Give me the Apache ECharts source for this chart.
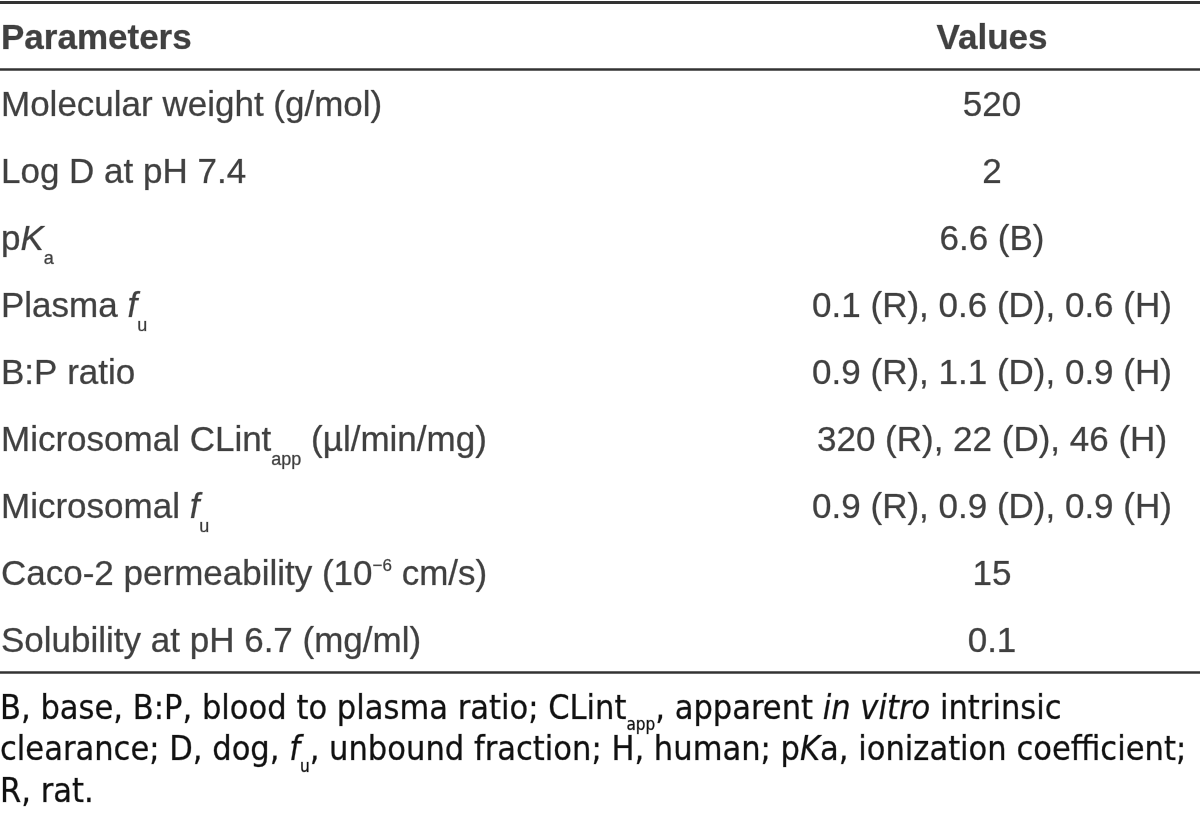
<!DOCTYPE html>
<html>
<head>
<meta charset="utf-8">
<script src="https://cdn.jsdelivr.net/npm/echarts@6/dist/echarts.min.js"></script>
<style>
html,body{margin:0;padding:0;background:#fff;}
#chart{width:1200px;height:816px;}
</style>
</head>
<body>
<div id="chart"></div>
<script>
// ---- table content ----
const headers = ['Parameters', 'Values'];
const parameters = [
  'Molecular weight (g/mol)',
  'Log D at pH 7.4',
  'p{it|K}{sub|a}',
  'Plasma {it|f}{sub|u}',
  'B:P ratio',
  'Microsomal CLint{sub|app} (µl/min/mg)',
  'Microsomal {it|f}{sub|u}',
  'Caco-2 permeability (10{sup|−6} cm/s)',
  'Solubility at pH 6.7 (mg/ml)'
];
const values = [
  '520',
  '2',
  '6.6 (B)',
  '0.1 (R), 0.6 (D), 0.6 (H)',
  '0.9 (R), 1.1 (D), 0.9 (H)',
  '320 (R), 22 (D), 46 (H)',
  '0.9 (R), 0.9 (D), 0.9 (H)',
  '15',
  '0.1'
];
const footnoteLines = [
  'B, base, B:P, blood to plasma ratio; CLint{fsub|app}, apparent {fit|in vitro} intrinsic',
  'clearance; D, dog, {fit|f}{fsub|u}, unbound fraction; H, human; p{fit|K}a, ionization coefficient;',
  'R, rat.'
];

// ---- build ----
const FONT = '"Liberation Sans", Arial, Helvetica, sans-serif';
const NARROW = '"Liberation Sans Narrow", "DejaVu Sans Condensed", "Liberation Sans", sans-serif';
const TXT = '#111';
const FS = 35;
const BORDER = {textBorderColor: 'rgba(17,17,17,0.45)', textBorderWidth: 0.6};

const colParams = ['{b|' + headers[0] + '}'].concat(parameters);
const colValues = ['{b|' + headers[1] + '}'].concat(values);
const rowIds = colParams.map((_, i) => 'row' + i);

const PARAM_X = 1;
const VALUE_X = 992;

function st(o) { return Object.assign({fontFamily: FONT, color: TXT}, BORDER, o); }
const rich = {
  b: st({fontSize: FS, fontWeight: 'bold', lineHeight: 46}),
  it: st({fontSize: FS, fontStyle: 'italic', lineHeight: 46}),
  sub: st({fontSize: 18, lineHeight: 6, padding: [38, 0, 0, 0]}),
  sup: st({fontSize: 17, lineHeight: 6, padding: [0, 0, 18, 0]})
};

const labelBase = Object.assign({
  show: true,
  fontSize: FS,
  fontFamily: FONT,
  color: TXT,
  lineHeight: 46,
  offset: [0, 4],
  rich: rich,
  formatter: p => p.data.label
}, BORDER);

const splitColors = rowIds.concat(['end']).map((_, i) => i === 1 ? '#333' : 'rgba(0,0,0,0)');

const FN_LH = 41.5;
const chart = echarts.init(document.getElementById('chart'), null, {renderer: 'canvas'});
chart.setOption({
  backgroundColor: '#fff',
  animation: false,
  title: {
    left: 0,
    top: 689,
    padding: 0,
    text: footnoteLines.join('\n'),
    textStyle: Object.assign({
      fontSize: 34,
      fontWeight: 'normal',
      fontFamily: NARROW,
      color: TXT,
      lineHeight: FN_LH,
      rich: {
        fit: Object.assign({fontSize: 34, fontStyle: 'italic', fontFamily: NARROW, color: TXT, lineHeight: FN_LH}, BORDER),
        fsub: Object.assign({fontSize: 17, fontFamily: NARROW, color: TXT, lineHeight: 6, padding: [32, 0, 0, 0]}, BORDER)
      }
    }, BORDER)
  },
  grid: {left: 0, right: 0, top: 2, height: 670, containLabel: false},
  xAxis: [
    {type: 'value', min: 0, max: 1200, position: 'top',
     axisLine: {show: true, onZero: false, lineStyle: {color: '#333', width: 3}},
     axisTick: {show: false}, axisLabel: {show: false}, splitLine: {show: false}},
    {type: 'value', min: 0, max: 1200, position: 'bottom',
     axisLine: {show: true, onZero: false, lineStyle: {color: '#333', width: 2.5}},
     axisTick: {show: false}, axisLabel: {show: false}, splitLine: {show: false}}
  ],
  yAxis: {
    type: 'category', inverse: true, data: rowIds, boundaryGap: true,
    axisLine: {show: false}, axisTick: {show: false}, axisLabel: {show: false},
    splitLine: {show: true, interval: 0, lineStyle: {color: splitColors, width: 2.5}}
  },
  series: [
    {
      type: 'scatter', name: 'Parameters', xAxisIndex: 0, symbolSize: 0, silent: true,
      data: colParams.map((t, i) => ({value: [PARAM_X, i], label: t})),
      label: Object.assign({}, labelBase, {position: 'right', distance: 0})
    },
    {
      type: 'scatter', name: 'Values', xAxisIndex: 0, symbolSize: 0, silent: true,
      data: colValues.map((t, i) => ({value: [VALUE_X, i], label: t})),
      label: Object.assign({}, labelBase, {position: 'inside', align: 'center'})
    }
  ]
});
</script>
</body>
</html>
